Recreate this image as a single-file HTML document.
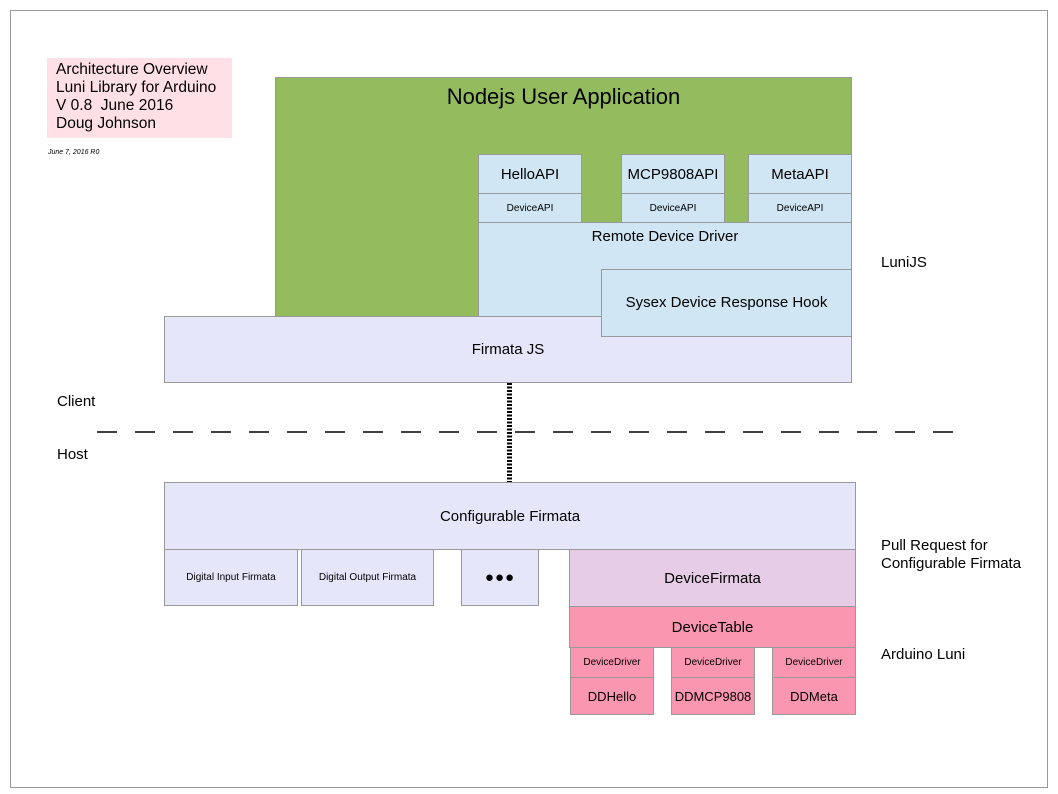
<!DOCTYPE html>
<html><head><meta charset="utf-8"><style>
body{margin:0;width:1058px;height:794px;background:#fff;position:relative;overflow:hidden;font-family:"Liberation Sans",Arial,sans-serif;color:#000}
.b{position:absolute;box-sizing:border-box;border:1.5px solid #999;display:flex;align-items:center;justify-content:center;text-align:center}
.t{position:absolute;white-space:nowrap}
.lb{background:#d0e6f4}
.lv{background:#e6e6fa}
.pk{background:#fa96b0}
</style></head><body>
<div class="b" style="left:10px;top:10px;width:1038px;height:778px;border:1px solid #999"></div>
<div class="b" style="left:47px;top:58px;width:185px;height:80px;background:#ffe0e6;border:none;display:block;text-align:left;padding:3px 0 0 9px;font-size:15.5px;line-height:18px">Architecture Overview<br>Luni Library for Arduino<br>V 0.8&nbsp; June 2016<br>Doug Johnson</div>
<div class="t" style="left:48px;top:149px;font-size:7px;font-style:italic">June 7, 2016 R0</div>

<div class="b" style="left:275px;top:77px;width:577px;height:241px;background:#94bc5f;align-items:flex-start;padding-top:6px;font-size:22px">Nodejs User Application</div>
<div class="b lb" style="left:478px;top:222px;width:374px;height:96px;align-items:flex-start;padding-top:5px;font-size:15px">Remote Device Driver</div>
<div class="b lb" style="left:478px;top:154px;width:104px;height:40px;font-size:15px">HelloAPI</div>
<div class="b lb" style="left:478px;top:193px;width:104px;height:30px;font-size:10px">DeviceAPI</div>
<div class="b lb" style="left:621px;top:154px;width:104px;height:40px;font-size:15px">MCP9808API</div>
<div class="b lb" style="left:621px;top:193px;width:104px;height:30px;font-size:10px">DeviceAPI</div>
<div class="b lb" style="left:748px;top:154px;width:104px;height:40px;font-size:15px">MetaAPI</div>
<div class="b lb" style="left:748px;top:193px;width:104px;height:30px;font-size:10px">DeviceAPI</div>
<div class="b lv" style="left:164px;top:316px;width:688px;height:67px;font-size:15px">Firmata JS</div>
<div class="b lb" style="left:601px;top:269px;width:251px;height:68px;font-size:15px;align-items:flex-start;padding-top:24px">Sysex Device Response Hook</div>

<div class="t" style="left:881px;top:254px;font-size:15px">LuniJS</div>
<div class="t" style="left:57px;top:393px;font-size:15px">Client</div>
<div class="t" style="left:57px;top:446px;font-size:15px">Host</div>
<svg style="position:absolute;left:0;top:0" width="1058" height="794">
<line x1="97" y1="432" x2="962" y2="432" stroke="#000" stroke-width="1.5" stroke-dasharray="20,18"/>
<line x1="509.5" y1="383" x2="509.5" y2="482" stroke="#000" stroke-width="5" stroke-dasharray="2,1.5"/>
</svg>

<div class="b lv" style="left:164px;top:482px;width:692px;height:68px;font-size:15px">Configurable Firmata</div>
<div class="b lv" style="left:164px;top:549px;width:134px;height:57px;font-size:10px">Digital Input Firmata</div>
<div class="b lv" style="left:301px;top:549px;width:133px;height:57px;font-size:10px">Digital Output Firmata</div>
<div class="b lv" style="left:461px;top:549px;width:78px;height:57px;font-size:15px;letter-spacing:1px">●●●</div>
<div class="b" style="left:569px;top:549px;width:287px;height:58px;background:#e6cce6;font-size:15px">DeviceFirmata</div>
<div class="b pk" style="left:569px;top:606px;width:287px;height:42px;font-size:15px">DeviceTable</div>
<div class="b pk" style="left:570px;top:647px;width:84px;height:31px;font-size:10px">DeviceDriver</div>
<div class="b pk" style="left:570px;top:677px;width:84px;height:38px;font-size:13px">DDHello</div>
<div class="b pk" style="left:671px;top:647px;width:84px;height:31px;font-size:10px">DeviceDriver</div>
<div class="b pk" style="left:671px;top:677px;width:84px;height:38px;font-size:13px">DDMCP9808</div>
<div class="b pk" style="left:772px;top:647px;width:84px;height:31px;font-size:10px">DeviceDriver</div>
<div class="b pk" style="left:772px;top:677px;width:84px;height:38px;font-size:13px">DDMeta</div>

<div class="t" style="left:881px;top:537px;font-size:15px;line-height:18px">Pull Request for<br>Configurable Firmata</div>
<div class="t" style="left:881px;top:646px;font-size:15px">Arduino Luni</div>
</body></html>
